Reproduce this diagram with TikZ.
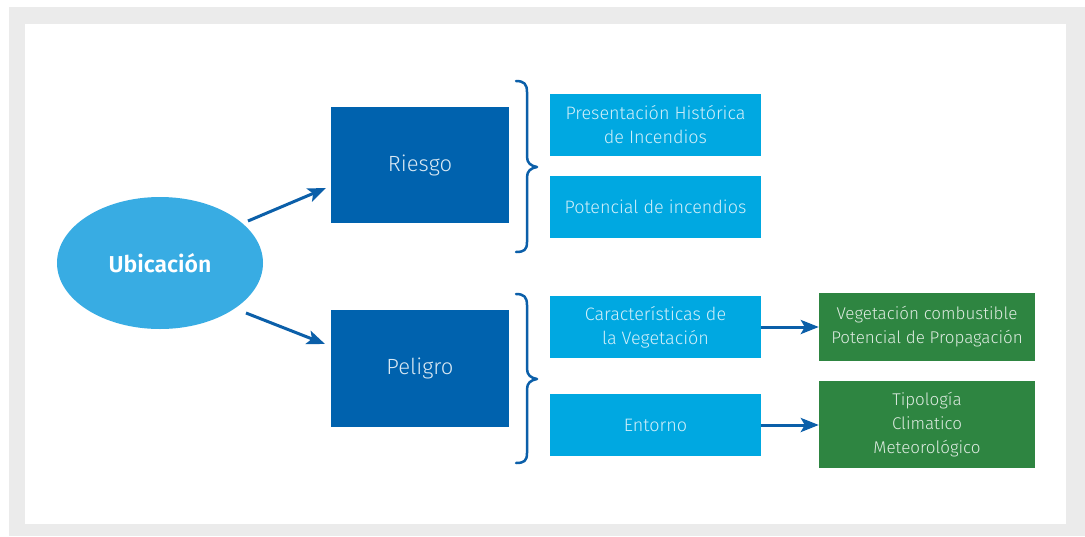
\documentclass[tikz,border=0pt]{standalone}
\usepackage{fontspec}
\setmainfont{Fira Sans}[UprightFont=* Light, BoldFont=* SemiBold]
\usetikzlibrary{arrows.meta,shapes.geometric}
\definecolor{framegrey}{HTML}{EBEBEB}
\definecolor{ellblue}{HTML}{38ACE3}
\definecolor{darkblue}{HTML}{0062AE}
\definecolor{lightblue}{HTML}{00A8E1}
\definecolor{boxgreen}{HTML}{2E8541}
\definecolor{linkblue}{HTML}{0B5FA9}
\tikzset{
  darkbox/.style={fill=darkblue,minimum width=178pt,inner sep=0pt,text=white!85!darkblue,font=\fontsize{22}{26}\selectfont},
  lightbox/.style={fill=lightblue,minimum width=211pt,minimum height=62pt,inner sep=0pt,align=center,text=white!82!lightblue,font=\fontsize{18}{24}\selectfont},
  greenbox/.style={fill=boxgreen,minimum width=216pt,inner sep=0pt,align=center,text=white!84!boxgreen,font=\fontsize{17}{24}\selectfont},
  arr/.style={draw=linkblue,line width=3pt,-{Stealth[length=18pt,width=14pt,inset=4pt]}},
  bracestyle/.style={draw=linkblue,line width=2.5pt,line cap=round,line join=round}
}
\begin{document}
\begin{tikzpicture}[x=1pt,y=-1pt]
\useasboundingbox (0,0) rectangle (1085,536);
\fill[framegrey] (9,7) rectangle (1085,536);
\fill[white] (25,24) rectangle (1066,524);
% ellipse
\node[ellipse,fill=ellblue,minimum width=206pt,minimum height=132pt,inner sep=0pt,text=white,font=\bfseries\fontsize{23}{27}\selectfont] (ubic) at (160,263) {Ubicación};
% dark boxes
\node[darkbox,minimum height=116pt] (riesgo) at (420,165) {\raisebox{-2pt}{Riesgo}};
\node[darkbox,minimum height=117pt] (peligro) at (420,368.5) {Peligro};
% light boxes
\node[lightbox] (hist) at (655.5,125) {Presentación Histórica\\de Incendios};
\node[lightbox] (pot) at (655.5,207) {Potencial de incendios};
\node[lightbox] (veg) at (655.5,327) {Características de\\la Vegetación};
\node[lightbox] (ent) at (655.5,425) {Entorno};
% green boxes
\node[greenbox,minimum height=68pt] (comb) at (927,327) {Vegetación combustible\\Potencial de Propagación};
\node[greenbox,minimum height=87pt] (clim) at (927,424.5) {Tipología\\Climatico\\Meteorológico};
% arrows from ellipse
\coordinate (a1s) at (248,221);
\coordinate (a1e) at (326,188);
\coordinate (a2s) at (246,313);
\coordinate (a2e) at (325,344);
\draw[arr] (a1s) -- (a1e);
\draw[arr] (a2s) -- (a2e);
% horizontal arrows
\draw[arr] (veg.east) -- (comb.west |- veg.east);
\draw[arr] (ent.east) -- (clim.west |- ent.east);
% braces
\draw[bracestyle] (516,81) .. controls (524,81) and (527,84) .. (527,92) -- (527,157)
  .. controls (527,163) and (531,166) .. (537,167)
  .. controls (531,168) and (527,171) .. (527,177) -- (527,242)
  .. controls (527,250) and (524,252) .. (516,252);
\draw[bracestyle] (516,294) .. controls (524,294) and (527,297) .. (527,305) -- (527,369)
  .. controls (527,375) and (531,378) .. (537,379)
  .. controls (531,380) and (527,383) .. (527,389) -- (527,453)
  .. controls (527,461) and (524,463) .. (516,463);
\end{tikzpicture}
\end{document}
